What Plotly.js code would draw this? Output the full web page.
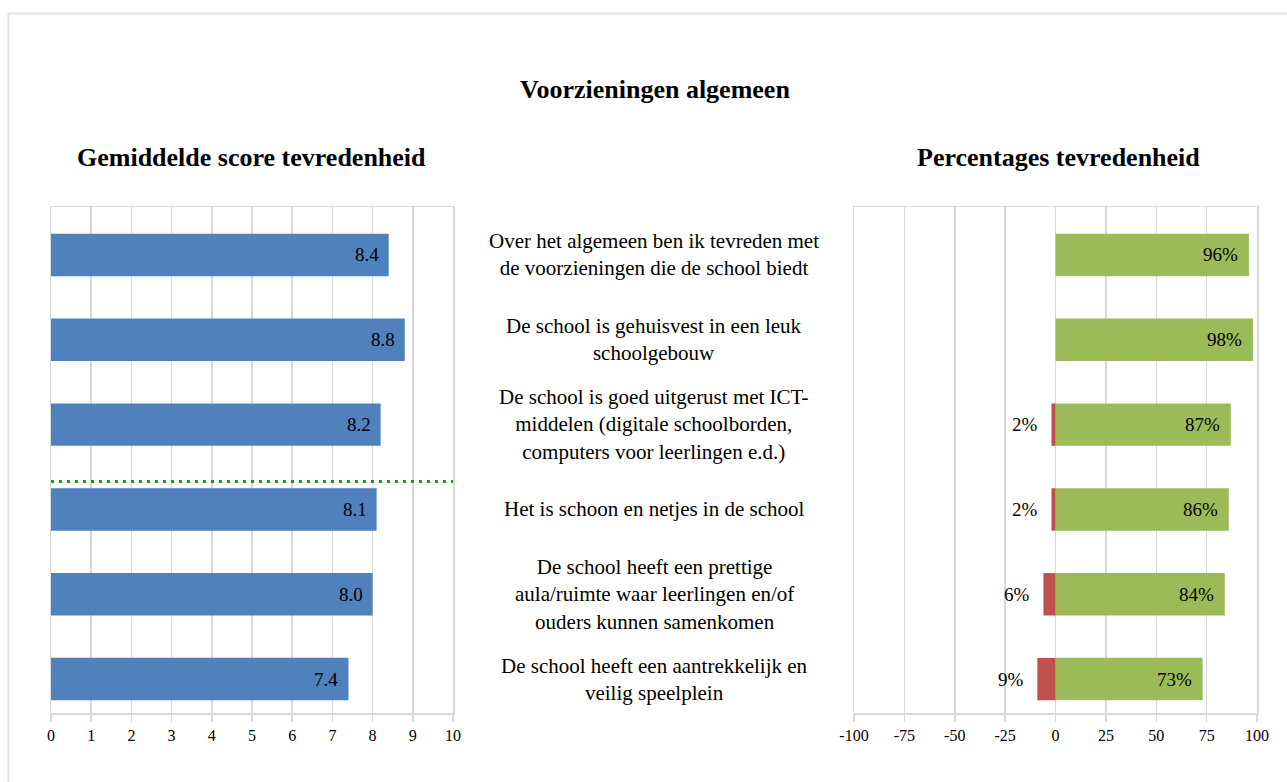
<!DOCTYPE html>
<html>
<head>
<meta charset="utf-8">
<script src="https://cdn.plot.ly/plotly-3.0.1.min.js"></script>
<style>
html,body{margin:0;padding:0;background:#fff;overflow:hidden;}
#chart{width:1287px;height:782px;}
</style>
</head>
<body>
<div id="chart"></div>
<script>
// ---- data ----
const categories = [
  "Over het algemeen ben ik tevreden met<br>de voorzieningen die de school biedt",
  "De school is gehuisvest in een leuk<br>schoolgebouw",
  "De school is goed uitgerust met ICT-<br>middelen (digitale schoolborden,<br>computers voor leerlingen e.d.)",
  "Het is schoon en netjes in de school",
  "De school heeft een prettige<br>aula/ruimte waar leerlingen en/of<br>ouders kunnen samenkomen",
  "De school heeft een aantrekkelijk en<br>veilig speelplein"
];
const meanScores = [8.4, 8.8, 8.2, 8.1, 8.0, 7.4];
const pctSatisfied = [96, 98, 87, 86, 84, 73];
const pctDissatisfied = [0, 0, -2, -2, -6, -9];
const leftTicks = [0,1,2,3,4,5,6,7,8,9,10];
const rightTicks = [-100,-75,-50,-25,0,25,50,75,100];
const chartTitle = "Voorzieningen algemeen";
const leftTitle = "Gemiddelde score tevredenheid";
const rightTitle = "Percentages tevredenheid";
const benchmarkPos = 2.67; // dotted reference line position (between rows 3 and 4)

// ---- layout helpers ----
const W = 1287, H = 782;
const px = v => v / W;
const py = v => 1 - v / H;
const FONT = "Liberation Serif, Times New Roman, serif";
const idx = categories.map((c, i) => i);
const yRange = [5.4, -0.566];
const grid = "#d9d9d9";

const traces = [
  {type:"bar", orientation:"h", x: meanScores, y: idx, xaxis:"x", yaxis:"y",
   marker:{color:"#4f81bd"}, width:0.5, hoverinfo:"x"},
  {type:"bar", orientation:"h", x: pctSatisfied, y: idx, xaxis:"x2", yaxis:"y2",
   marker:{color:"#9bbb59"}, width:0.5, hoverinfo:"x"},
  {type:"bar", orientation:"h", x: pctDissatisfied, y: idx, xaxis:"x2", yaxis:"y2",
   marker:{color:"#c0504d"}, width:0.5, hoverinfo:"x"}
];

const annotations = [];
annotations.push({xref:"paper", yref:"paper", x:px(655), y:py(89), text:"<b>"+chartTitle+"</b>",
  showarrow:false, font:{family:FONT, size:26, color:"#000"}, xanchor:"center", yanchor:"middle"});
annotations.push({xref:"paper", yref:"paper", x:px(251), y:py(157), text:"<b>"+leftTitle+"</b>",
  showarrow:false, font:{family:FONT, size:26, color:"#000"}, xanchor:"center", yanchor:"middle"});
annotations.push({xref:"paper", yref:"paper", x:px(1058), y:py(157), text:"<b>"+rightTitle+"</b>",
  showarrow:false, font:{family:FONT, size:26, color:"#000"}, xanchor:"center", yanchor:"middle"});

categories.forEach((c, i) => {
  annotations.push({xref:"paper", yref:"y", x:px(654), y:i, text:c, showarrow:false,
    align:"center", xanchor:"center", yanchor:"middle",
    font:{family:FONT, size:21, color:"#000"}});
  annotations.push({xref:"x", yref:"y", x:meanScores[i], y:i, text:meanScores[i].toFixed(1),
    showarrow:false, xanchor:"right", yanchor:"middle", xshift:-8,
    font:{family:FONT, size:19, color:"#000"}});
  annotations.push({xref:"x2", yref:"y2", x:pctSatisfied[i], y:i, text:pctSatisfied[i]+"%",
    showarrow:false, xanchor:"right", yanchor:"middle", xshift:-9,
    font:{family:FONT, size:19, color:"#000"}});
  if (pctDissatisfied[i] !== 0) {
    annotations.push({xref:"x2", yref:"y2", x:pctDissatisfied[i], y:i, text:Math.abs(pctDissatisfied[i])+"%",
      showarrow:false, xanchor:"right", yanchor:"middle", xshift:-11,
      font:{family:FONT, size:19, color:"#000"}});
  }
});

const axisCommon = {
  showgrid:true, gridcolor:grid, gridwidth:1.5,
  showline:true, linecolor:grid, linewidth:1.5, mirror:true,
  ticks:"outside", ticklen:7, tickcolor:grid, tickwidth:1.5,
  tickfont:{family:FONT, size:16, color:"#000"}, fixedrange:true
};

const layout = {
  width: W, height: H,
  margin:{l:0, r:0, t:0, b:0, pad:0},
  paper_bgcolor:"#fff", plot_bgcolor:"#fff",
  showlegend:false, barmode:"relative",
  xaxis: Object.assign({}, axisCommon, {domain:[px(51), px(453)], range:[0,10],
    tickvals:leftTicks, ticktext:leftTicks.map(String), anchor:"y", zeroline:false}),
  xaxis2: Object.assign({}, axisCommon, {domain:[px(854), px(1257)], range:[-100,100],
    tickvals:rightTicks, ticktext:rightTicks.map(String), anchor:"y2",
    zeroline:true, zerolinecolor:grid, zerolinewidth:1.5}),
  yaxis: {domain:[py(713), py(207)], range:yRange, showticklabels:false, showgrid:false,
    showline:true, linecolor:grid, linewidth:1.5, mirror:true, zeroline:false, anchor:"x", fixedrange:true},
  yaxis2: {domain:[py(713), py(207)], range:yRange, showticklabels:false, showgrid:false,
    showline:true, linecolor:grid, linewidth:1.5, mirror:true, zeroline:false, anchor:"x2", fixedrange:true},
  annotations: annotations,
  shapes: [
    {type:"line", xref:"x", yref:"y", x0:0, x1:10, y0:benchmarkPos, y1:benchmarkPos,
     line:{color:"#00a800", width:3, dash:"3px,5px"}},
    {type:"rect", xref:"paper", yref:"paper", x0:px(8.5), x1:1.05, y0:-0.05, y1:py(13.5),
     line:{color:"#e3e3e3", width:2}, fillcolor:"rgba(0,0,0,0)", layer:"below"}
  ]
};

Plotly.newPlot("chart", traces, layout, {displayModeBar:false, staticPlot:true});
</script>
</body>
</html>
